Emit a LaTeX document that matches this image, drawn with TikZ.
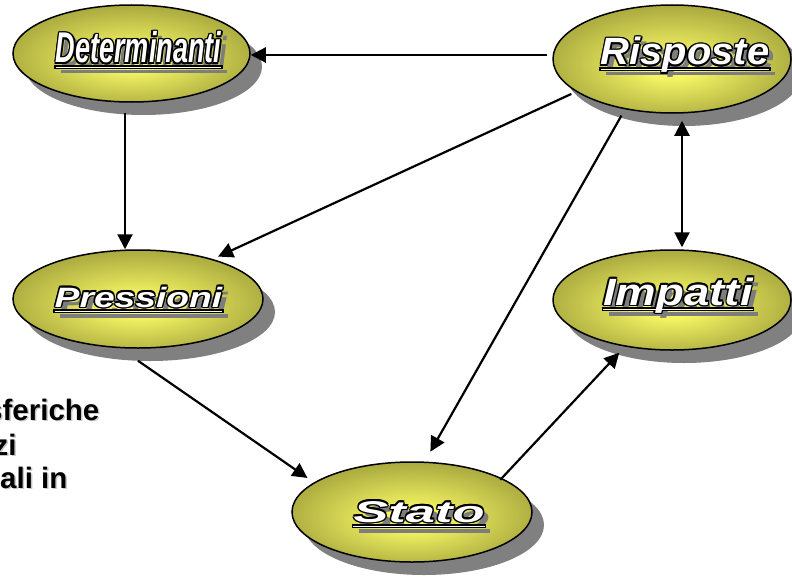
\documentclass[tikz,border=0pt]{standalone}
\usepackage{fontspec}
\setmainfont{Liberation Sans}
\newfontfamily\detfont[FakeStretch=0.63]{Liberation Sans}
\newfontfamily\rispfont[FakeStretch=1.05]{Liberation Sans}
\newfontfamily\pressfont[FakeStretch=1.33]{Liberation Sans}
\newfontfamily\impfont[FakeStretch=1.2]{Liberation Sans}
\newfontfamily\statofont[FakeStretch=1.75]{Liberation Sans}
\usetikzlibrary{arrows.meta,shapes.geometric,shadows}
\definecolor{ellin}{RGB}{246,246,100}
\definecolor{ellout}{RGB}{162,162,60}
\definecolor{shad}{RGB}{128,128,128}
\definecolor{tshad}{RGB}{125,125,125}
\definecolor{lshad}{RGB}{200,200,200}
\pgfdeclareradialshading{ellshade}{\pgfpoint{0bp}{-4bp}}{%
  color(0bp)=(ellin); color(5bp)=(ellin); color(29bp)=(ellout); color(50bp)=(ellout)}
\newcommand\cpy[2]{\rlap{\kern#1\raise#2\copy0}}
\newcommand\fancytext[2]{%
 \setbox0\hbox{#1#2}%
 \hbox{%
  \color{tshad}%
  \cpy{5.5pt}{-5pt}%
  \rlap{\kern5.5pt\raise-10.5pt\hbox{\vrule width\wd0 height 3.5pt depth 0pt}}%
  \color{black}%
  \cpy{-1.5pt}{0pt}\cpy{1.5pt}{0pt}\cpy{0pt}{1.5pt}\cpy{0pt}{-1.5pt}%
  \cpy{-1.05pt}{-1.05pt}\cpy{1.05pt}{1.05pt}\cpy{-1.05pt}{1.05pt}\cpy{1.05pt}{-1.05pt}%
  \rlap{\kern-1.5pt\raise-6pt\hbox{\vrule width\dimexpr\wd0+3pt\relax height 3.8pt depth 0pt}}%
  \color{white}%
  \rlap{\raise-4.6pt\hbox{\vrule width\wd0 height 1pt depth 0pt}}%
  \copy0}}
\newcommand\sidetext[1]{%
 \setbox0\hbox{#1}%
 \hbox{\color{lshad}\cpy{1.5pt}{-1.5pt}\color{black}\copy0}}
\begin{document}
\begin{tikzpicture}[x=1pt,y=-1pt,
  ell/.style={ellipse, draw=black, line width=1.5pt, inner sep=0pt,
    shading=ellshade,
    general shadow={fill=shad, shadow xshift=12pt, shadow yshift=-13pt}},
  lbl/.style={anchor=base, inner sep=0pt},
  side/.style={anchor=base west, inner sep=0pt, font=\bfseries\fontsize{29.5pt}{30pt}\selectfont},
  arr/.style={line width=2.2pt, -{Triangle[length=15pt,width=15pt]}},
  arrboth/.style={line width=2.2pt, {Triangle[length=15pt,width=15pt]}-{Triangle[length=15pt,width=15pt]}}]
\useasboundingbox (0,0) rectangle (792,578);

% ellipses
\node[ell, minimum width=237pt, minimum height=97pt] (det) at (131.5,53.5) {};
\node[ell, minimum width=238pt, minimum height=108pt] (risp) at (672,59) {};
\node[ell, minimum width=250pt, minimum height=98pt] (press) at (138,299) {};
\node[ell, minimum width=238pt, minimum height=100pt] (imp) at (672,300) {};
\node[ell, minimum width=240pt, minimum height=100pt] (stato) at (412,512) {};

% labels
\node[lbl] (detT) at (138.5,63) {\fancytext{\detfont\bfseries\itshape\fontsize{43pt}{43pt}\selectfont}{Determinanti}};
\node[lbl] (rispT) at (685,65) {\fancytext{\rispfont\bfseries\itshape\fontsize{38pt}{38pt}\selectfont}{Risposte}};
\node[lbl] (pressT) at (138.5,307) {\fancytext{\pressfont\bfseries\itshape\fontsize{28pt}{28pt}\selectfont}{Pressioni}};
\node[lbl] (impT) at (678,305) {\fancytext{\impfont\bfseries\itshape\fontsize{38pt}{38pt}\selectfont}{Impatti}};
\node[lbl] (statoT) at (419,522) {\fancytext{\statofont\bfseries\itshape\fontsize{30pt}{30pt}\selectfont}{Stato}};

% side text (cut by the page edge, as in the reference)
\node[side] (s1) at (-14,420) {\sidetext{sferiche}};
\node[side] (s2) at (-6.5,455) {\sidetext{zi}};
\node[side] (s3) at (0,488) {\sidetext{ali in}};

% connectors
\draw[arr] ([xshift=-5pt,yshift=4pt]risp.west) -- ([yshift=-1.5pt]det.east);
\draw[arr] ([xshift=-6.5pt,yshift=-10pt]det.south) -- ([xshift=-13pt]press.north);
\draw[arr] ([shift={(-5pt,-2pt)}]risp.199) -- ([shift={(5pt,2.5pt)}]press.28);
\draw[arr] ([shift={(-5pt,-6pt)}]risp.228) -- ([shift={(3pt,10pt)}]stato.73);
\draw[arrboth] ([shift={(10pt,-7pt)}]risp.south) -- ([shift={(10pt,2pt)}]imp.north);
\draw[arr] ([yshift=-12pt]press.south) -- ([shift={(-9pt,3pt)}]stato.162);
\draw[arr] ([shift={(-3pt,-1pt)}]stato.20) -- ([shift={(-6pt,-6pt)}]imp.225);
\end{tikzpicture}
\end{document}
